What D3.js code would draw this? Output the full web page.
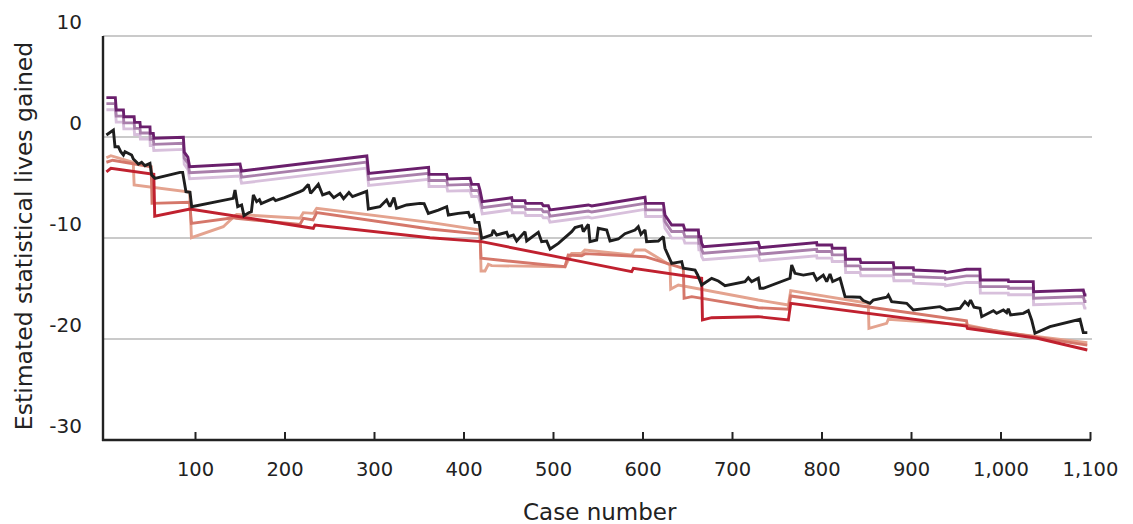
<!DOCTYPE html>
<html>
<head>
<meta charset="utf-8">
<script src="https://cdn.jsdelivr.net/npm/d3@7"></script>
<style>
  body { margin: 0; background: #fff; }
  svg { display: block; }
  text { font-family: "DejaVu Sans", sans-serif; fill: #222; }
</style>
</head>
<body>
<svg id="chart" width="1133" height="524"></svg>
<script>
// ---------- DATA ----------
const xTickValues = [100, 200, 300, 400, 500, 600, 700, 800, 900, 1000, 1100];
const yTickValues = [10, 0, -10, -20, -30];
const xTitle = "Case number";
const yTitle = "Estimated statistical lives gained";

// Shared breakpoints (case number) for the three purple series
const purpleCases = [1, 11, 12, 20, 20.5, 32, 32.5, 38.5, 39, 49.7, 50, 53.4, 54, 87, 88, 92, 94, 150.3, 152, 292, 294, 361, 361.5, 381.2, 382.3, 407.3, 409.2, 416.6, 418.4, 421, 453.8, 454.5, 468.7, 469.5, 487.4, 489.2, 494.8, 496.6, 539.5, 543.2, 602.8, 603.6, 623.3, 625.1, 632.6, 645.6, 647.4, 662.4, 663, 665, 666.1, 668, 729.4, 731.3, 794.6, 795, 811.4, 812, 826.3, 827, 843, 844, 880.2, 881, 902.6, 903, 938, 938.5, 962, 977, 977.5, 1008.7, 1009, 1036.6, 1037, 1092.5, 1094, 1096];
const darkPurple = [3.9, 3.9, 2.67, 2.67, 2.0, 2.0, 1.45, 1.45, 1.0, 1.0, 0.36, 0.36, -0.13, -0.03, -1.5, -2.0, -2.94, -2.67, -3.37, -1.88, -3.6, -3.0, -3.7, -3.7, -4.16, -4.09, -4.69, -4.69, -5.25, -6.4, -6.01, -6.3, -6.3, -6.57, -6.57, -6.8, -6.8, -7.23, -6.73, -6.83, -5.97, -6.57, -6.57, -7.72, -8.71, -8.71, -9.21, -9.21, -9.87, -9.87, -10.53, -10.86, -10.43, -10.95, -10.46, -10.69, -10.69, -11.02, -11.02, -12.11, -12.11, -12.44, -12.44, -12.94, -12.94, -13.17, -13.3, -13.43, -13.1, -13.1, -14.16, -14.16, -14.32, -14.32, -15.31, -15.15, -15.64, -15.64];
const midPurple = [3.3, 3.3, 2.07, 2.07, 1.4, 1.4, 0.85, 0.85, 0.4, 0.4, -0.24, -0.24, -0.73, -0.63, -2.1, -2.6, -3.54, -3.27, -3.97, -2.48, -4.2, -3.6, -4.3, -4.3, -4.76, -4.69, -5.29, -5.29, -5.85, -7.0, -6.61, -6.9, -6.9, -7.17, -7.17, -7.4, -7.4, -7.83, -7.33, -7.43, -6.57, -7.22, -7.22, -8.37, -9.36, -9.36, -9.86, -9.86, -10.52, -10.52, -11.18, -11.51, -11.08, -11.6, -11.11, -11.34, -11.34, -11.67, -11.67, -12.76, -12.76, -13.09, -13.09, -13.59, -13.59, -13.82, -13.95, -14.08, -13.75, -13.75, -14.81, -14.81, -14.97, -14.97, -15.96, -15.8, -16.29, -16.29];
const lightPurple = [2.7, 2.7, 1.47, 1.47, 0.8, 0.8, 0.25, 0.25, -0.2, -0.2, -0.84, -0.84, -1.33, -1.23, -2.7, -3.2, -4.14, -3.87, -4.57, -3.08, -4.8, -4.2, -4.9, -4.9, -5.36, -5.29, -5.89, -5.89, -6.45, -7.6, -7.21, -7.5, -7.5, -7.77, -7.77, -8.0, -8.0, -8.43, -7.93, -8.03, -7.17, -7.87, -7.87, -9.02, -10.01, -10.01, -10.51, -10.51, -11.17, -11.17, -11.83, -12.16, -11.73, -12.25, -11.76, -11.99, -11.99, -12.32, -12.32, -13.41, -13.41, -13.74, -13.74, -14.24, -14.24, -14.47, -14.6, -14.73, -14.4, -14.4, -15.46, -15.46, -15.62, -15.62, -16.61, -16.45, -16.94, -16.94];

// [case, value] pairs
const blackSeries = [[1,0.2],[8.8,0.69],[10.6,-0.96],[14.3,-0.96],[17,-1.45],[20,-1.78],[21.8,-1.45],[29.2,-1.78],[31.1,-2.18],[34.8,-2.51],[36.7,-2.7],[40.4,-2.51],[44.1,-2.84],[49.7,-2.61],[51.6,-3.76],[55.3,-4.09],[83.2,-3.5],[86.2,-3.5],[89.9,-5.41],[94.4,-5.48],[96.3,-6.9],[142.8,-6.07],[144.7,-5.25],[147.7,-6.9],[152.1,-6.73],[154.7,-7.79],[160,-7.5],[163,-7.39],[165.2,-5.74],[168.9,-6.4],[172,-6.2],[174,-6.6],[187.5,-6.07],[190,-6.3],[200,-6.0],[217.3,-5.41],[221,-5.25],[226.6,-4.69],[229.2,-5.58],[237.8,-4.69],[242.6,-5.74],[250,-5.5],[255,-6.0],[262,-5.6],[266,-6.1],[272,-5.5],[276,-5.9],[291.8,-5.38],[293.7,-7.13],[306.6,-6.9],[314.1,-6.24],[317.8,-6.9],[322.3,-6.01],[325.2,-7.06],[336.4,-6.73],[351.3,-6.57],[356,-6.6],[360.7,-7.56],[371.9,-7.23],[381.2,-6.9],[383.1,-7.72],[394.2,-7.56],[405.4,-7.46],[407.3,-7.89],[411,-7.72],[412.9,-8.45],[417.3,-8.45],[420.3,-10.03],[431.5,-9.7],[433.3,-9.21],[437.1,-9.7],[448.2,-9.44],[450.1,-9.87],[455.7,-9.7],[459.4,-10.3],[468.7,-9.37],[470.6,-10.3],[483.6,-9.44],[487.3,-10.36],[492.9,-10.3],[496.7,-11.09],[506,-10.53],[520.9,-9.37],[524.6,-8.97],[532,-8.78],[533.9,-9.37],[539.5,-8.65],[541.3,-10.36],[548.8,-10.2],[550.6,-9.04],[560,-9.21],[563.7,-10.3],[573,-10.1],[580.4,-9.57],[591.6,-9.21],[595.3,-8.88],[598.3,-9.64],[602.8,-9.21],[604.6,-10.36],[617.7,-10.3],[623.3,-9.87],[625.1,-11.02],[632.6,-12.51],[643.8,-12.34],[645.6,-13.0],[658.7,-13.17],[661.6,-13.66],[666.1,-14.65],[677.3,-13.99],[684.7,-14.26],[692.2,-14.72],[714.5,-14.32],[718.2,-13.93],[722,-14.32],[729.4,-13.99],[731.3,-14.98],[735,-14.98],[764.8,-13.99],[766.7,-12.67],[770.4,-13.5],[779.7,-13.67],[790.9,-13.5],[794.6,-14.16],[802,-13.67],[805.8,-14.32],[809.5,-13.56],[812.5,-14.32],[820.7,-13.99],[826.3,-15.81],[843,-15.87],[846.7,-16.2],[854.2,-16.47],[857.9,-16.14],[872.8,-15.87],[874.7,-15.64],[878.4,-16.3],[895.2,-16.47],[902.6,-17.13],[932.4,-16.8],[939.8,-17.13],[954.7,-16.96],[960.3,-16.3],[964,-16.63],[966.6,-16.14],[970.4,-16.86],[977.1,-16.96],[979,-17.79],[992,-17.19],[995.7,-17.46],[1003.2,-17.13],[1006.9,-17.39],[1008.7,-17.0],[1011.3,-17.62],[1025.5,-17.46],[1031.1,-17.19],[1034.8,-18.12],[1038.5,-19.44],[1055.3,-18.78],[1088.8,-18.05],[1092.5,-19.37],[1097,-19.37]];

const lightSalmon = [[1,-2.05],[6,-1.85],[31,-2.51],[32,-4.75],[94,-5.45],[96,-9.97],[131.6,-8.88],[144.7,-7.79],[146.6,-7.66],[217.3,-8.05],[221,-7.49],[232.2,-7.56],[236,-7.06],[362.6,-8.45],[418.4,-9.21],[419.6,-13.27],[424,-13.27],[427.8,-12.61],[431.5,-12.74],[513.4,-12.84],[520.9,-11.52],[532,-11.52],[535.7,-11.19],[587.9,-11.68],[591.6,-11.19],[602.8,-11.19],[630.7,-12.67],[631.5,-15.05],[640,-14.65],[729.4,-16.14],[763,-16.63],[765.6,-15.21],[852.3,-16.47],[853,-18.94],[872.8,-18.45],[874.7,-18.05],[962,-18.6],[1000,-19.3],[1097,-20.36]];

const salmon = [[1,-2.5],[8,-2.3],[51,-2.95],[52,-6.57],[94,-6.47],[96,-8.55],[142.8,-7.99],[146,-8.05],[217.3,-8.65],[221,-8.05],[232,-8.2],[236,-7.49],[362.6,-9.11],[418.4,-9.6],[419.6,-12.01],[513.4,-12.84],[517,-11.68],[532,-11.75],[536,-11.55],[602.8,-11.85],[645.6,-13.0],[646.5,-15.97],[655,-15.81],[729.4,-16.9],[763,-17.06],[765.6,-15.74],[962,-18.2],[963,-18.75],[1097,-20.6]];

const red = [[1,-3.45],[6,-3.1],[54,-3.7],[55,-7.85],[94.4,-7.13],[232.2,-9.04],[234,-8.71],[362.6,-9.97],[420.3,-10.36],[513.4,-12.01],[587.9,-13.33],[589.8,-13.0],[666.1,-13.99],[667,-18.12],[677.3,-17.89],[729.4,-17.79],[763,-18.12],[765.6,-16.47],[962,-18.71],[963,-18.95],[1040,-19.9],[1097,-21.09]];

// ---------- CHART ----------
const svg = d3.select("#chart");
const x = d3.scaleLinear().domain([0, 1100]).range([105.5, 1090]);
const y = d3.scaleLinear().domain([-30, 10]).range([440, 36]);

const gridRight = 1092;
const axisLeftX = 103;

// gridlines
svg.append("g")
  .selectAll("line")
  .data(yTickValues.filter(v => v !== -30))
  .join("line")
  .attr("x1", axisLeftX).attr("x2", gridRight)
  .attr("y1", d => y(d)).attr("y2", d => y(d))
  .attr("stroke", "#b8b8b8").attr("stroke-width", 1.3);

// y tick labels
svg.append("g")
  .selectAll("text")
  .data(yTickValues)
  .join("text")
  .attr("x", 82)
  .attr("y", d => Math.min(y(d) - 14, y(-30) - 2))
  .attr("dy", "0.35em")
  .attr("text-anchor", "end")
  .attr("font-size", 20)
  .text(d => d);

// x axis
const xAxis = d3.axisBottom(x).tickValues(xTickValues)
  .tickSize(-8).tickSizeOuter(0).tickPadding(22)
  .tickFormat(d3.format(","));
const gx = svg.append("g").attr("transform", `translate(0,${y(-30)})`).call(xAxis);
gx.select(".domain").remove();
gx.selectAll(".tick line").attr("stroke", "#222").attr("stroke-width", 2);
gx.selectAll(".tick text").attr("font-size", 19.5).attr("fill", "#222")
  .style("font-family", '"DejaVu Sans", sans-serif');

// axis lines
svg.append("line").attr("x1", axisLeftX).attr("x2", axisLeftX)
  .attr("y1", y(10)).attr("y2", y(-30) + 1)
  .attr("stroke", "#222").attr("stroke-width", 2.4);
svg.append("line").attr("x1", axisLeftX - 1).attr("x2", x(1100) + 1)
  .attr("y1", y(-30)).attr("y2", y(-30))
  .attr("stroke", "#222").attr("stroke-width", 2.4);

// titles
svg.append("text").attr("x", (x(0) + x(1100)) / 2 + 2).attr("y", 512)
  .attr("dy", "0.35em").attr("text-anchor", "middle").attr("font-size", 23)
  .text(xTitle);
svg.append("text")
  .attr("transform", `translate(24,${(y(10) + y(-30)) / 2 - 2}) rotate(-90)`)
  .attr("dy", "0.35em").attr("text-anchor", "middle").attr("font-size", 23.5)
  .text(yTitle);

// lines
const line = d3.line().x(d => x(d[0])).y(d => y(d[1]));
const zipP = vals => purpleCases.map((c, i) => [c, vals[i]]);

const series = [
  { data: zipP(lightPurple), color: "#d8c0dc" },
  { data: zipP(midPurple), color: "#a97fab" },
  { data: zipP(darkPurple), color: "#6a1f6c" },
  { data: lightSalmon, color: "#e4a38f" },
  { data: salmon, color: "#d5776a" },
  { data: red, color: "#c0212f" },
  { data: blackSeries, color: "#1e1e1e" }
];

svg.append("g").selectAll("path")
  .data(series)
  .join("path")
  .attr("d", d => line(d.data))
  .attr("fill", "none")
  .attr("stroke", d => d.color)
  .attr("stroke-width", 2.9)
  .attr("stroke-linejoin", "miter")
  .attr("stroke-miterlimit", 2);
</script>
</body>
</html>
